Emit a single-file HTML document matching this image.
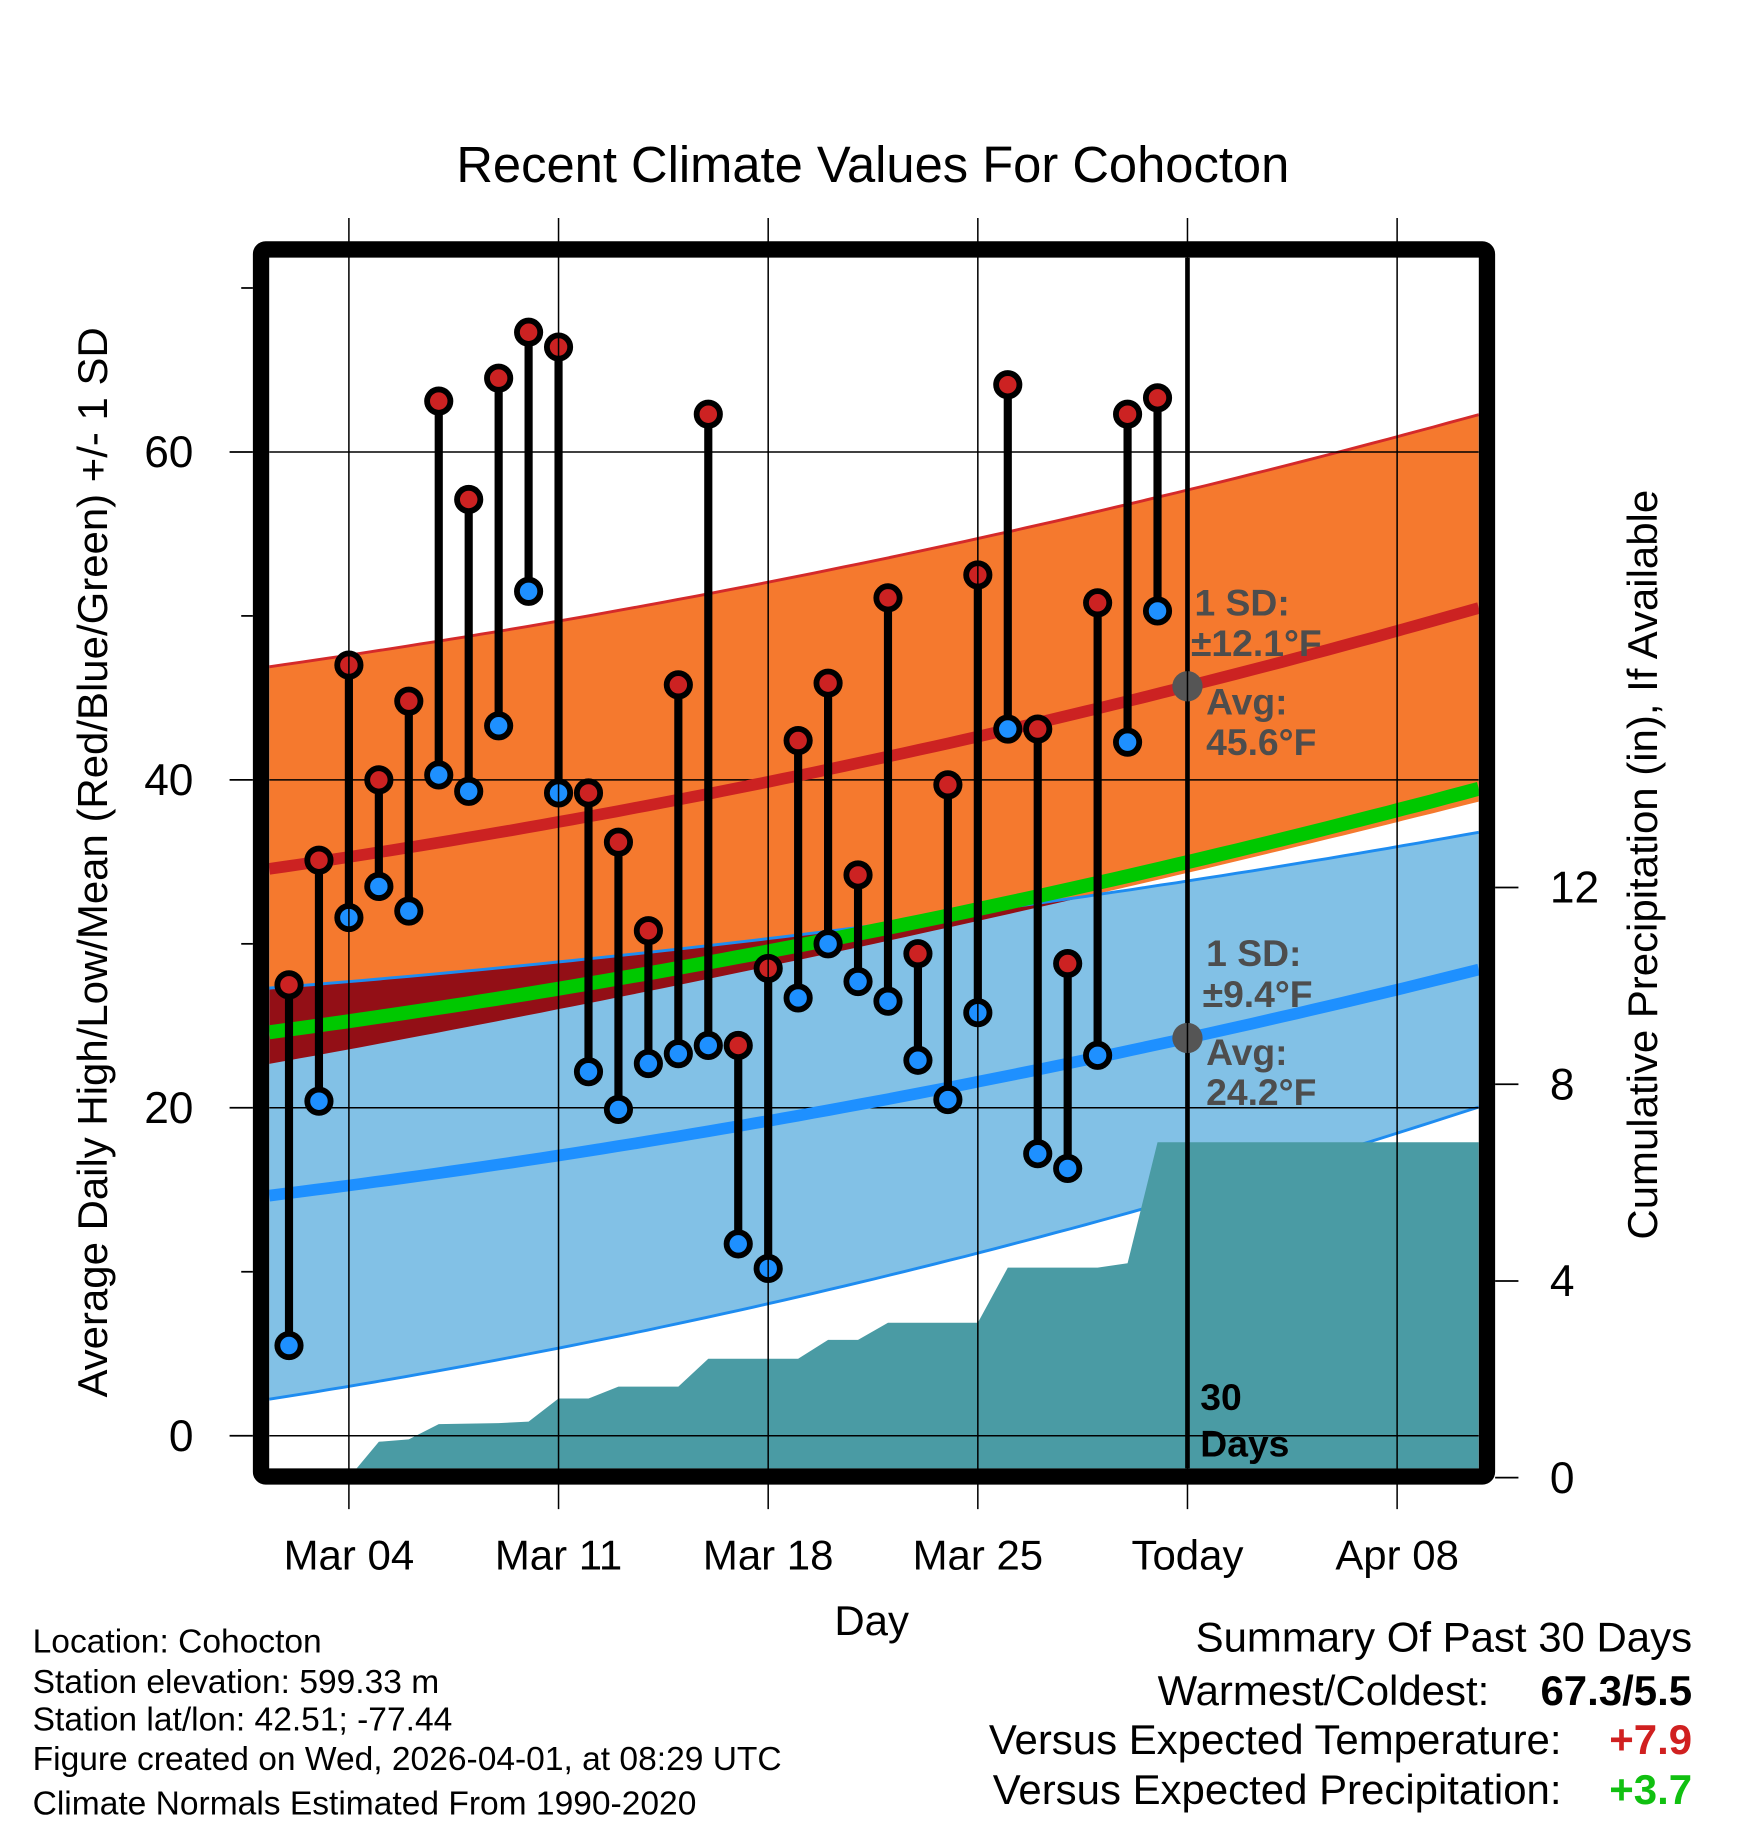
<!DOCTYPE html>
<html><head><meta charset="utf-8"><style>
html,body{margin:0;padding:0;background:#fff}
svg{display:block;font-family:"Liberation Sans",Arial,sans-serif}
</style></head><body>
<svg id="chart" width="1748" height="1828" viewBox="0 0 1500 1568.6" xmlns="http://www.w3.org/2000/svg">
<defs><clipPath id="plotClip"><rect x="231" y="221" width="1038" height="1039"/></clipPath></defs>
<rect width="1500" height="1569" fill="#fff"/>
<text x="749" y="156" font-size="43.5" text-anchor="middle">Recent Climate Values For Cohocton</text>
<g id="plot" clip-path="url(#plotClip)"></g>
<g id="axes"></g>
<rect x="224" y="214" width="1052" height="1053" rx="4" fill="none" stroke="#000" stroke-width="14"/>
<text x="748" y="1403" font-size="36" text-anchor="middle">Day</text>
<text transform="translate(92,740) rotate(-90)" font-size="36" text-anchor="middle">Average Daily High/Low/Mean (Red/Blue/Green) +/- 1 SD</text>
<text transform="translate(1422,742) rotate(-90)" font-size="36" text-anchor="middle">Cumulative Precipitation (in), If Available</text>
<g font-size="28.8">
<text x="28" y="1418">Location: Cohocton</text>
<text x="28" y="1453">Station elevation: 599.33 m</text>
<text x="28" y="1485">Station lat/lon: 42.51; -77.44</text>
<text x="28" y="1519">Figure created on Wed, 2026-04-01, at 08:29 UTC</text>
<text x="28" y="1557">Climate Normals Estimated From 1990-2020</text>
</g>
<g font-size="36">
<text x="1452" y="1417" text-anchor="end">Summary Of Past 30 Days</text>
<text x="1278" y="1463" text-anchor="end">Warmest/Coldest:</text>
<text x="1452" y="1463" text-anchor="end" font-weight="bold">67.3/5.5</text>
<text x="1340" y="1505" text-anchor="end">Versus Expected Temperature:</text>
<text x="1452" y="1505" text-anchor="end" font-weight="bold" fill="#d02020">+7.9</text>
<text x="1340" y="1548" text-anchor="end">Versus Expected Precipitation:</text>
<text x="1452" y="1548" text-anchor="end" font-weight="bold" fill="#10c010">+3.7</text>
</g>
</svg>
<script>
const highs=[27.5,35.1,47.0,40.0,44.8,63.1,57.1,64.5,67.3,66.4,39.2,36.2,30.8,45.8,62.3,23.8,28.5,42.4,45.9,34.2,51.1,29.4,39.7,52.5,64.1,43.1,28.8,50.8,62.3,63.3];
const lows=[5.5,20.4,31.6,33.5,32.0,40.3,39.3,43.3,51.5,39.2,22.2,19.9,22.7,23.3,23.8,11.7,10.2,26.7,30.0,27.7,26.5,22.9,20.5,25.8,43.1,17.2,16.3,23.2,42.3,50.3];
const precip=[0,0,0,0.73,0.78,1.09,1.10,1.11,1.14,1.61,1.61,1.85,1.85,1.85,2.42,2.42,2.42,2.42,2.80,2.80,3.15,3.15,3.15,3.15,4.27,4.27,4.27,4.27,4.36,6.82];
const normDays=[-0.66,9,16,23,30,39.7];
const normalHigh=[34.6,37.3,40.0,42.7,45.6,50.5];
const highUpper=[46.8,49.8,52.2,54.7,57.4,62.4];
const highLower=[22.7,26.0,28.6,31.3,34.5,38.6];
const normalLow=[14.7,17.0,19.1,21.8,24.2,28.4];
const lowUpper=[27.3,28.9,30.3,32.0,33.8,36.8];
const lowLower=[2.3,5.2,8.0,11.3,14.6,20.0];
const tempTicks=[0,20,40,60];
const minorTempTicks=[10,30,50,70];
const precipTicks=[0,4,8,12];
const dateTicks=[2,9,16,23,30,37];
const dateLabels=["Mar 04","Mar 11","Mar 18","Mar 25","Today","Apr 08"];
const todayDay=30;

const NS="http://www.w3.org/2000/svg";
const X=d=>248+d*25.7;
const Y=t=>1232-t*14.07;
const YP=p=>1268-p*42.2;
const LEFT=231,RIGHT=1269,TOP=221,BOT=1260;
const dayAt=x=>(x-248)/25.7;
function mk(tag,attrs,parent){const e=document.createElementNS(NS,tag);for(const k in attrs)e.setAttribute(k,attrs[k]);parent.appendChild(e);return e;}
// least-squares quadratic fit through the normal samples
function quadFit(arr){
  let S=[0,0,0,0,0],T=[0,0,0];
  normDays.forEach((d,i)=>{let p=1;for(let k=0;k<5;k++){S[k]+=p;p*=d;}T[0]+=arr[i];T[1]+=arr[i]*d;T[2]+=arr[i]*d*d;});
  const M=[[S[0],S[1],S[2],T[0]],[S[1],S[2],S[3],T[1]],[S[2],S[3],S[4],T[2]]];
  for(let c=0;c<3;c++){for(let r=c+1;r<3;r++){const f=M[r][c]/M[c][c];for(let k=c;k<4;k++)M[r][k]-=f*M[c][k];}}
  const x=[0,0,0];for(let r=2;r>=0;r--){let s=M[r][3];for(let k=r+1;k<3;k++)s-=M[r][k]*x[k];x[r]=s/M[r][r];}
  return d=>x[0]+x[1]*d+x[2]*d*d;
}
const fHigh=quadFit(normalHigh),fHU=quadFit(highUpper),fHL=quadFit(highLower);
const fLow=quadFit(normalLow),fLU=quadFit(lowUpper),fLL=quadFit(lowLower);
const samples=[];for(let k=0;k<=80;k++)samples.push(dayAt(LEFT+(RIGHT-LEFT)*k/80));
const curve=f=>samples.map(d=>[X(d),Y(f(d))]);
const pts=a=>a.map(p=>p[0].toFixed(1)+","+p[1].toFixed(1)).join(" ");
const hiU=curve(fHU),hiL=curve(fHL),loU=curve(fLU),loL=curve(fLL);
const plot=document.getElementById('plot');
const axes=document.getElementById('axes');

let e=mk('polygon',{points:pts(hiU.concat(hiL.slice().reverse())),fill:'#f5792e'},plot);

e=mk('polygon',{points:pts(loU.concat(loL.slice().reverse())),fill:'#82c1e6'},plot);

const cp=mk('clipPath',{id:'hiClip'},document.querySelector('defs'));
mk('polygon',{points:pts(hiU.concat(hiL.slice().reverse()))},cp);
e=mk('polygon',{points:pts(loU.concat(loL.slice().reverse())),fill:'#930f16','clip-path':'url(#hiClip)'},plot);

e=mk('polyline',{points:pts(hiU),fill:'none',stroke:'#d42a2a','stroke-width':2.5},plot);

e=mk('polyline',{points:pts(loU),fill:'none',stroke:'#1e8cf0','stroke-width':2.5},plot);

e=mk('polyline',{points:pts(loL),fill:'none',stroke:'#1e8cf0','stroke-width':2.5},plot);


// precip
const pp=[[X(-0.66),YP(0)]];
precip.forEach((v,i)=>pp.push([X(i),YP(v)]));
pp.push([RIGHT,YP(precip[precip.length-1])],[RIGHT,1275],[LEFT,1275]);
e=mk('polygon',{points:pts(pp),fill:'#4a9ba4'},plot);


// grid
tempTicks.forEach(t=>{const g=mk('line',{x1:LEFT,x2:RIGHT,y1:Y(t),y2:Y(t),stroke:'#000','stroke-width':1.3},plot);
});
dateTicks.forEach(d=>{const g=mk('line',{x1:X(d),x2:X(d),y1:187,y2:1295,stroke:'#000','stroke-width':1.3},axes);
});

e=mk('polyline',{points:pts(curve(d=>(fHigh(d)+fLow(d))/2)),fill:'none',stroke:'#00c800','stroke-width':12},plot);

e=mk('polyline',{points:pts(curve(fHigh)),fill:'none',stroke:'#cc2222','stroke-width':10},plot);

e=mk('polyline',{points:pts(curve(fLow)),fill:'none',stroke:'#1e90ff','stroke-width':10},plot);


// today line
e=mk('line',{x1:X(todayDay),x2:X(todayDay),y1:TOP,y2:BOT,stroke:'#000','stroke-width':4},plot);


// stems & markers
highs.forEach((h,i)=>{
  const s=mk('line',{x1:X(i),x2:X(i),y1:Y(h),y2:Y(lows[i]),stroke:'#000','stroke-width':7},plot);
  
});
highs.forEach((h,i)=>{
  const a=mk('circle',{cx:X(i),cy:Y(h),r:10,fill:'#cc2222',stroke:'#000','stroke-width':5},plot);
  
  const b=mk('circle',{cx:X(i),cy:Y(lows[i]),r:10,fill:'#1e90ff',stroke:'#000','stroke-width':5},plot);
  
});

// today normals markers and notes
e=mk('circle',{cx:X(todayDay),cy:Y(fHigh(todayDay)),r:13,fill:'#555'},plot);

e=mk('circle',{cx:X(todayDay),cy:Y(fLow(todayDay)),r:13,fill:'#555'},plot);

function note(x,y,txt,name,col){const t=mk('text',{x:x,y:y,'font-size':32,'font-weight':'bold',fill:col||'#4d4d4d'},plot);t.textContent=txt;
}
note(1025,528,'1 SD:','high-sd-label');note(1022,563,'±12.1°F','high-sd-value');
note(1035,613,'Avg:','high-avg-label');note(1035,648,'45.6°F','high-avg-value');
note(1035,829,'1 SD:','low-sd-label');note(1032,864,'±9.4°F','low-sd-value');
note(1035,914,'Avg:','low-avg-label');note(1035,948,'24.2°F','low-avg-value');
note(1030,1210,'30','days-count','#000');note(1030,1250,'Days','days-label','#000');

// axes ticks
tempTicks.forEach(t=>{
  const l=mk('line',{x1:197,x2:217,y1:Y(t),y2:Y(t),stroke:'#000','stroke-width':1.5},axes);
  
  const tx=mk('text',{x:166,y:Y(t)+13,'font-size':38,'text-anchor':'end'},axes);tx.textContent=t;
  
});
minorTempTicks.forEach(t=>{
  const l=mk('line',{x1:207,x2:217,y1:Y(t),y2:Y(t),stroke:'#000','stroke-width':1.5},axes);
  
});
precipTicks.forEach(p=>{
  const l=mk('line',{x1:1283,x2:1303,y1:YP(p),y2:YP(p),stroke:'#000','stroke-width':1.5},axes);
  
  const tx=mk('text',{x:1330,y:YP(p)+13,'font-size':38},axes);tx.textContent=p;
  
});
dateTicks.forEach((d,i)=>{
  const tx=mk('text',{x:X(d),y:1347,'font-size':36,'text-anchor':'middle'},axes);tx.textContent=dateLabels[i];
  
});
</script>
</body></html>
